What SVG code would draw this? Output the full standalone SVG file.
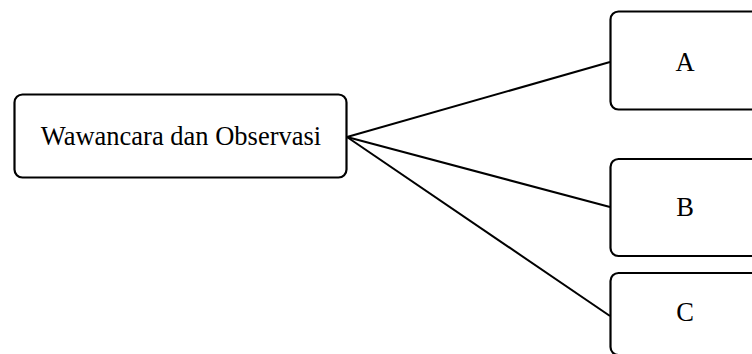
<svg xmlns="http://www.w3.org/2000/svg" width="752" height="354" viewBox="0 0 752 354">
<style>
.box{fill:#fff;stroke:#000;stroke-width:2.2}
.lbl{font-family:"Liberation Serif","Times New Roman",serif;font-size:26.5px;fill:#000;text-anchor:middle}
.conn line{stroke:#000;stroke-width:2}
</style>
<rect width="752" height="354" fill="#fff"/>
<g class="conn">
<line x1="347" y1="137" x2="610" y2="62"/>
<line x1="347" y1="137" x2="610" y2="207"/>
<line x1="347" y1="137" x2="610" y2="316"/>
</g>
<g id="root">
<rect class="box" x="14.5" y="94.5" width="332" height="83" rx="8"/>
<text class="lbl" x="181" y="145">Wawancara dan Observasi</text>
</g>
<g id="A">
<rect class="box" x="610.5" y="11.5" width="150" height="98" rx="8"/>
<text class="lbl" x="685" y="71">A</text>
</g>
<g id="B">
<rect class="box" x="610.5" y="159" width="150" height="97" rx="8"/>
<text class="lbl" x="685" y="216">B</text>
</g>
<g id="C">
<rect class="box" x="610.5" y="273" width="150" height="82" rx="8"/>
<text class="lbl" x="685" y="321">C</text>
</g>
</svg>
